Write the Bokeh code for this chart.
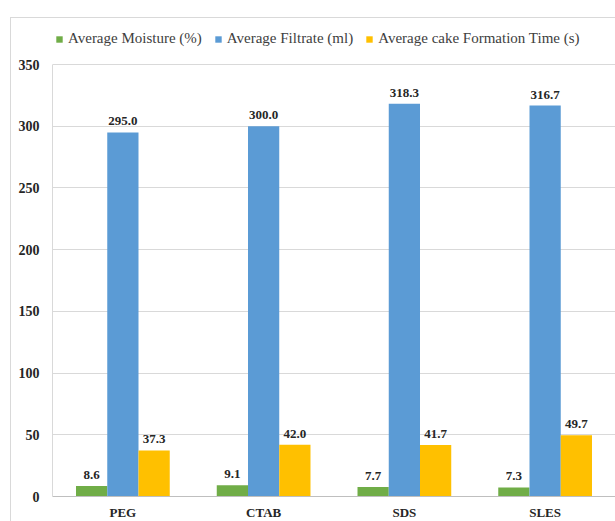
from bokeh.plotting import figure
from bokeh.models import ColumnDataSource, FactorRange, Range1d, Legend, LegendItem, LabelSet, FixedTicker
from bokeh.transform import dodge
from bokeh.embed import file_html
from bokeh.resources import INLINE
from bokeh.core.properties import value

categories = ["PEG", "CTAB", "SDS", "SLES"]
moisture = [8.6, 9.1, 7.7, 7.3]
filtrate = [295.0, 300.0, 318.3, 316.7]
cake_time = [37.3, 42.0, 41.7, 49.7]
series_names = ["Average Moisture (%)", "Average Filtrate (ml)", "Average cake Formation Time (s)"]
y_ticks = [0, 50, 100, 150, 200, 250, 300, 350]

colors = ["#70AD47", "#5B9BD5", "#FFC000"]
FONT = "Liberation Serif"

# plot area: axis part 432px tall for 0..350, plus 46px headroom for the legend
AXIS_PX = 432
HEAD_PX = 46
y_max = y_ticks[-1] * (AXIS_PX + HEAD_PX) / AXIS_PX

src = ColumnDataSource(dict(
    cat=categories, m=moisture, f=filtrate, c=cake_time,
    ml=[f"{v:.1f}" for v in moisture],
    fl=[f"{v:.1f}" for v in filtrate],
    cl=[f"{v:.1f}" for v in cake_time],
))

p = figure(x_range=FactorRange(*categories, range_padding=0), y_range=Range1d(0, y_max),
           frame_width=563, frame_height=AXIS_PX + HEAD_PX, output_backend="svg", toolbar_location=None,
           min_border_left=41, min_border_right=0, min_border_top=0, min_border_bottom=20)
p.margin = (17, 0, 0, 10)
p.styles = {"border-left": "1px solid #d9d9d9", "border-top": "1px solid #d9d9d9"}
p.outline_line_color = None
p.background_fill_color = "white"
p.border_fill_color = "white"

W = 0.222
renderers = []
for col, off, color in [("m", -W, colors[0]), ("f", 0.0, colors[1]), ("c", W, colors[2])]:
    r = p.vbar(x=dodge("cat", off, range=p.x_range), top=col, width=W, source=src,
               fill_color=color, line_color=None)
    renderers.append(r)

for col, lab, off in [("m", "ml", -W), ("f", "fl", 0.0), ("c", "cl", W)]:
    ls = LabelSet(x=dodge("cat", off, range=p.x_range), y=col, text=lab, source=src,
                  text_align="center", text_baseline="bottom", y_offset=7,
                  text_font=value(FONT), text_font_style="bold", text_font_size="13px",
                  text_color="#262626")
    p.add_layout(ls)

p.yaxis.ticker = FixedTicker(ticks=y_ticks)
p.yaxis.bounds = (y_ticks[0], y_ticks[-1])
p.ygrid.grid_line_color = "#d9d9d9"
p.xgrid.grid_line_color = None
for ax in (p.xaxis[0], p.yaxis[0]):
    ax.major_tick_line_color = None
    ax.minor_tick_line_color = None
    ax.major_tick_out = 0
    ax.major_tick_in = 0
    ax.minor_tick_out = 0
    ax.major_label_text_font = FONT
    ax.major_label_text_font_style = "bold"
    ax.major_label_text_color = "#262626"
p.yaxis.major_label_text_font_size = "14px"
p.xaxis.major_label_text_font_size = "13px"
p.yaxis.axis_line_color = "#d9d9d9"
p.xaxis.axis_line_color = "#bfbfbf"
p.yaxis.major_label_standoff = 13
p.xaxis.major_label_standoff = 8

legend = Legend(items=[LegendItem(label=n, renderers=[r]) for n, r in zip(series_names, renderers)],
                orientation="horizontal", location=(3, 449),
                label_text_font=FONT, label_text_font_size="15px", label_text_color="#404040",
                glyph_width=8, glyph_height=8, label_standoff=5, spacing=12,
                padding=0, margin=0, border_line_color=None, background_fill_alpha=0)
p.add_layout(legend, "center")

open("out.html", "w").write(file_html(p, INLINE))
